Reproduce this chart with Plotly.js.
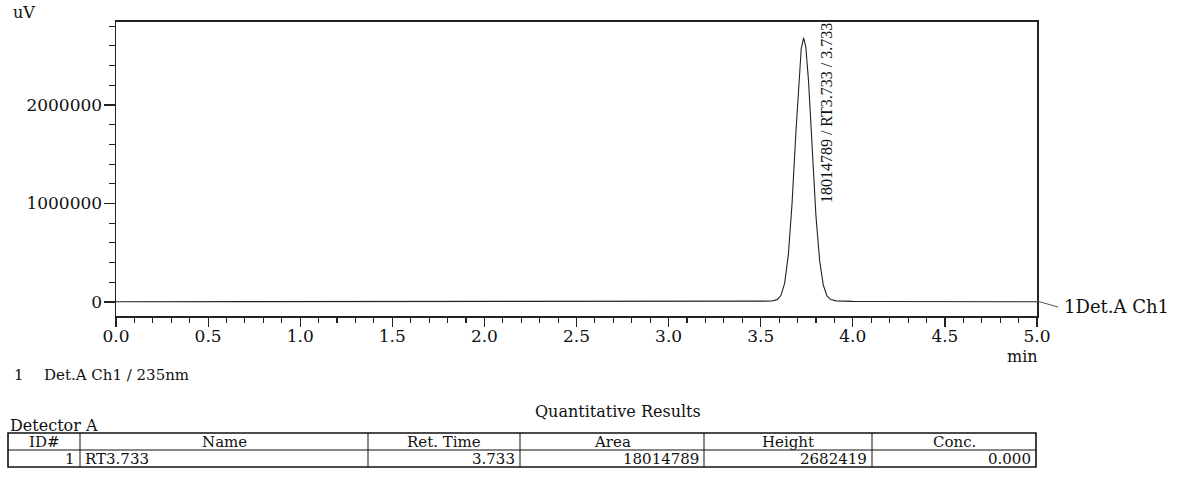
<!DOCTYPE html>
<html>
<head>
<meta charset="utf-8">
<script src="https://cdn.plot.ly/plotly-3.0.1.min.js"></script>
<style>html,body{margin:0;padding:0;background:#fff;}#chart{width:1197px;height:481px;}</style>
</head>
<body>
<div id="chart"></div>
<script>
// Chromatogram (time in min, signal in uV)
const timeMin = [0.0, 0.5, 1.0, 1.5, 1.8, 1.88, 1.92, 1.96, 2.05, 2.5, 3.0, 3.3, 3.45, 3.52, 3.56, 3.59, 3.61, 3.63, 3.65, 3.67, 3.69, 3.71, 3.72, 3.733, 3.745, 3.76, 3.78, 3.80, 3.82, 3.84, 3.86, 3.88, 3.91, 3.95, 4.0, 4.1, 4.5, 5.0];
const signalUV = [2000, 2000, 3000, 4000, 5000, 8000, 9000, 7000, 5000, 4000, 4000, 5000, 7000, 9000, 10000, 24000, 68000, 189000, 478000, 994000, 1688000, 2350000, 2571000, 2682419, 2588000, 2235000, 1544000, 872000, 420000, 170000, 62000, 25000, 12000, 8000, 6000, 5000, 4000, 3000];

// Y tick values
const yTicks = [0, 1000000, 2000000];
const yTickLabels = ['0', '1000000', '2000000'];
// X tick values
const xTicks = [0.0, 0.5, 1.0, 1.5, 2.0, 2.5, 3.0, 3.5, 4.0, 4.5, 5.0];
const xTickLabels = ['0.0', '0.5', '1.0', '1.5', '2.0', '2.5', '3.0', '3.5', '4.0', '4.5', '5.0'];

// Quantitative results table
const tableHeader = ['ID#', 'Name', 'Ret. Time', 'Area', 'Height', 'Conc.'];
const ids = ['1'];
const names = ['RT3.733'];
const retTimes = ['3.733'];
const areas = ['18014789'];
const heights = ['2682419'];
const concs = ['0.000'];

const W = 1197, H = 481;
const px = x => x / W;
const py = y => 1 - y / H;
const serif = 'DejaVu Serif, serif';
const ink = '#111';

const trace = {
  type: 'scatter', mode: 'lines',
  x: timeMin, y: signalUV,
  line: {color: '#222', width: 1.1},
  hoverinfo: 'skip', showlegend: false
};

// ---- table geometry (pixels) ----
const colEdges = [8, 80, 368, 520, 704, 872, 1036];
const rowEdges = [433, 450, 467];
const cellAlign = ['right', 'left', 'right', 'right', 'right', 'right'];
const rows = [[ids, names, retTimes, areas, heights, concs]];

const shapes = [
  {type: 'line', xref: 'paper', yref: 'paper', x0: px(1037), y0: py(301), x1: px(1058), y1: py(307), line: {color: '#555', width: 1}},
  {type: 'rect', xref: 'paper', yref: 'paper', x0: px(colEdges[0]), x1: px(colEdges[6]), y0: py(rowEdges[0]), y1: py(rowEdges[2]), line: {color: '#111', width: 1.6}}
];
shapes.push({type: 'line', xref: 'paper', yref: 'paper', x0: px(colEdges[0]), x1: px(colEdges[6]), y0: py(rowEdges[1]), y1: py(rowEdges[1]), line: {color: '#111', width: 1}});
for (let i = 1; i < colEdges.length - 1; i++) {
  shapes.push({type: 'line', xref: 'paper', yref: 'paper', x0: px(colEdges[i]), x1: px(colEdges[i]), y0: py(rowEdges[0]), y1: py(rowEdges[2]), line: {color: '#111', width: 1}});
}

const tblFont = {family: serif, size: 15, color: ink};
const annotations = [
  {xref: 'x', yref: 'y', x: retTimes[0] * 1, y: 985000, xanchor: 'left', yanchor: 'bottom', xshift: 12,
   text: areas[0] + ' / ' + names[0] + ' / ' + retTimes[0], textangle: -90, showarrow: false,
   font: {family: 'Liberation Serif, serif', size: 16, color: ink}},
  {xref: 'paper', yref: 'paper', x: px(11), y: py(13), xanchor: 'left', yanchor: 'middle', text: 'uV', showarrow: false, font: {family: serif, size: 16, color: ink}},
  {xref: 'paper', yref: 'paper', x: px(1022), y: py(356), xanchor: 'center', yanchor: 'middle', text: 'min', showarrow: false, font: {family: serif, size: 16, color: ink}},
  {xref: 'paper', yref: 'paper', x: px(1062), y: py(306), xanchor: 'left', yanchor: 'middle', text: '1Det.A Ch1', showarrow: false, font: {family: serif, size: 18, color: ink}},
  {xref: 'paper', yref: 'paper', x: px(12), y: py(375), xanchor: 'left', yanchor: 'middle', text: '1', showarrow: false, font: {family: serif, size: 15, color: ink}},
  {xref: 'paper', yref: 'paper', x: px(42), y: py(375), xanchor: 'left', yanchor: 'middle', text: 'Det.A Ch1 / 235nm', showarrow: false, font: {family: serif, size: 15, color: ink}},
  {xref: 'paper', yref: 'paper', x: px(618), y: py(411), xanchor: 'center', yanchor: 'middle', text: 'Quantitative Results', showarrow: false, font: {family: serif, size: 16, color: ink}},
  {xref: 'paper', yref: 'paper', x: px(8), y: py(425), xanchor: 'left', yanchor: 'middle', text: 'Detector A', showarrow: false, font: {family: serif, size: 16, color: ink}}
];
// header cells
tableHeader.forEach((h, i) => {
  annotations.push({xref: 'paper', yref: 'paper', x: px((colEdges[i] + colEdges[i + 1]) / 2), y: py((rowEdges[0] + rowEdges[1]) / 2),
    xanchor: 'center', yanchor: 'middle', text: h, showarrow: false, font: tblFont});
});
// data cells
rows.forEach((cols, r) => {
  cols.forEach((col, i) => {
    const a = cellAlign[i];
    annotations.push({xref: 'paper', yref: 'paper',
      x: px(a === 'right' ? colEdges[i + 1] - 3 : colEdges[i] + 3),
      y: py((rowEdges[r + 1] + rowEdges[r + 2]) / 2),
      xanchor: a, yanchor: 'middle', text: col[0], showarrow: false, font: tblFont});
  });
});

const layout = {
  width: W, height: H,
  margin: {l: 0, r: 0, t: 0, b: 0, pad: 0},
  paper_bgcolor: '#fff', plot_bgcolor: '#fff',
  showlegend: false,
  font: {family: serif, color: ink},
  xaxis: {
    domain: [px(116), px(1037)],
    range: [0, 5],
    tickvals: xTicks, ticktext: xTickLabels,
    ticks: 'outside', ticklen: 9, tickwidth: 1.2, tickcolor: '#222',
    minor: {dtick: 0.1, ticks: 'outside', ticklen: 5, tickwidth: 1.1, tickcolor: '#222'},
    showline: true, mirror: true, linecolor: '#222', linewidth: 1.5,
    showgrid: false, zeroline: false,
    ticklabelstandoff: -5,
    tickfont: {family: serif, size: 17, color: ink},
    fixedrange: true
  },
  yaxis: {
    domain: [py(316), py(21.5)],
    range: [-142000, 2848000],
    tickvals: yTicks, ticktext: yTickLabels,
    ticks: 'outside', ticklen: 11, tickwidth: 1.2, tickcolor: '#222',
    minor: {dtick: 200000, ticks: 'outside', ticklen: 6, tickwidth: 1.1, tickcolor: '#222'},
    showline: true, mirror: true, linecolor: '#222', linewidth: 1.5,
    showgrid: false, zeroline: false,
    ticklabelstandoff: -2,
    tickfont: {family: serif, size: 17, color: ink},
    fixedrange: true
  },
  shapes: shapes,
  annotations: annotations
};

Plotly.newPlot('chart', [trace], layout, {displayModeBar: false, staticPlot: true});
</script>
</body>
</html>
